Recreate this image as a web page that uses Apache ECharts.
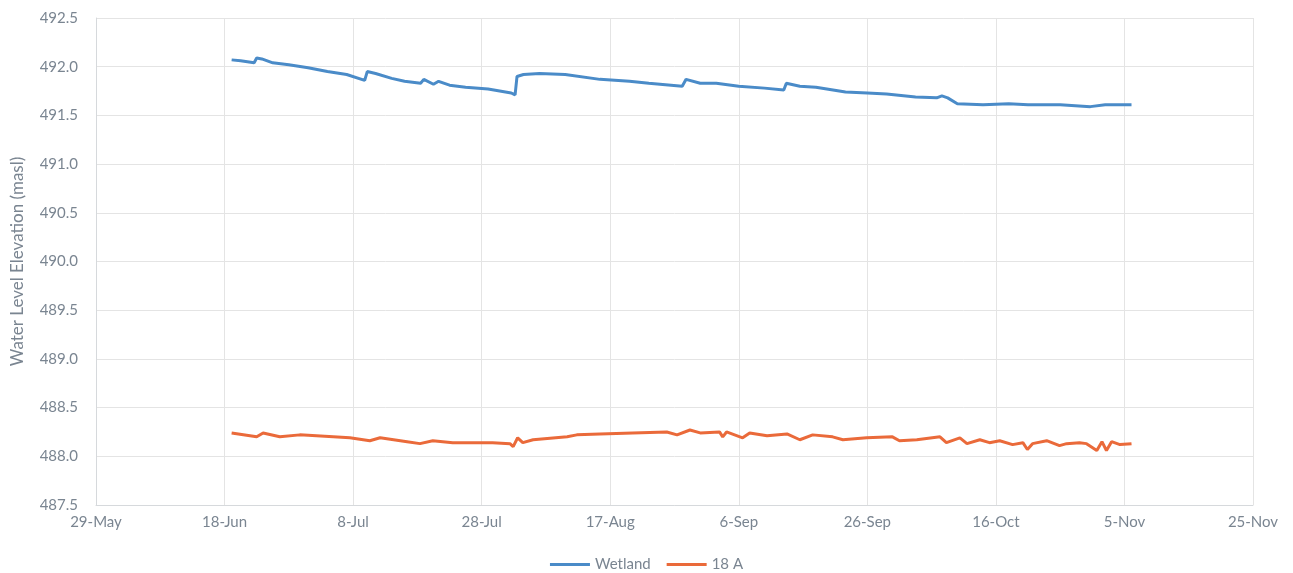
<!DOCTYPE html>
<html>
<head>
<meta charset="utf-8">
<script src="https://cdn.jsdelivr.net/npm/echarts@6/dist/echarts.min.js"></script>
<style>
  html, body { margin: 0; padding: 0; background: #fff; }
  #chart { width: 1293px; height: 573px; }
</style>
</head>
<body>
<div id="chart"></div>
<script>
// x values are days after 29 May
var startDate = Date.UTC(2019, 4, 29);
var monthNames = ['Jan', 'Feb', 'Mar', 'Apr', 'May', 'Jun', 'Jul', 'Aug', 'Sep', 'Oct', 'Nov', 'Dec'];

var wetlandDay = [21.1, 22.5, 24.6, 25.0, 25.8, 27.5, 30, 33, 36, 39, 41.8, 42.2, 43.5, 46, 48, 50.5, 51.0, 52.5, 53.3, 55, 57.5, 61, 64.6, 65.2, 65.5, 66.5, 69, 73, 78.4, 83, 86, 91.2, 91.8, 94, 96.5, 100, 104, 107.0, 107.4, 109.5, 112, 116.6, 120, 123, 127.5, 130.8, 131.6, 132.5, 134, 138, 142, 145, 150, 154.7, 157, 161.1];
var wetlandVal = [492.07, 492.06, 492.04, 492.09, 492.08, 492.04, 492.02, 491.99, 491.95, 491.92, 491.86, 491.95, 491.93, 491.88, 491.85, 491.83, 491.87, 491.82, 491.85, 491.81, 491.79, 491.77, 491.73, 491.71, 491.90, 491.92, 491.93, 491.92, 491.87, 491.85, 491.83, 491.80, 491.87, 491.83, 491.83, 491.80, 491.78, 491.76, 491.83, 491.80, 491.79, 491.74, 491.73, 491.72, 491.69, 491.68, 491.70, 491.68, 491.62, 491.61, 491.62, 491.61, 491.61, 491.59, 491.61, 491.61];

var a18Day = [21.1, 25.0, 26.0, 28.6, 31.7, 36.9, 39.5, 42.6, 44.2, 48.4, 50.4, 52.4, 55.5, 58.6, 61.7, 64.4, 64.9, 65.6, 66.4, 68.0, 73.3, 74.8, 78.4, 83.5, 88.8, 90.4, 92.4, 94.0, 97.0, 97.5, 98.1, 100.6, 101.7, 104.4, 107.5, 109.5, 111.5, 114.6, 116.2, 119.9, 123.9, 125.0, 127.7, 131.3, 132.3, 134.4, 135.5, 137.5, 139.0, 140.6, 142.6, 144.2, 144.9, 145.7, 147.9, 149.9, 151.0, 153.0, 154.1, 155.7, 156.5, 157.2, 158.0, 159.3, 161.1];
var a18Val = [488.24, 488.20, 488.24, 488.20, 488.22, 488.20, 488.19, 488.16, 488.19, 488.15, 488.13, 488.16, 488.14, 488.14, 488.14, 488.13, 488.10, 488.19, 488.14, 488.17, 488.20, 488.22, 488.23, 488.24, 488.25, 488.22, 488.27, 488.24, 488.25, 488.20, 488.25, 488.19, 488.24, 488.21, 488.23, 488.17, 488.22, 488.20, 488.17, 488.19, 488.20, 488.16, 488.17, 488.20, 488.14, 488.19, 488.13, 488.17, 488.14, 488.16, 488.12, 488.14, 488.07, 488.13, 488.16, 488.11, 488.13, 488.14, 488.13, 488.06, 488.15, 488.06, 488.15, 488.12, 488.13];

function pairs(xs, ys) {
  return xs.map(function (x, i) { return [x, ys[i]]; });
}

var textColor = '#7a8591';
var gridColor = '#e4e4e4';

var chart = echarts.init(document.getElementById('chart'));
chart.setOption({
  animation: false,
  textStyle: { fontFamily: 'Lato' },
  grid: { left: 96, right: 40, top: 18, bottom: 68 },
  legend: {
    top: 552,
    left: 'center',
    icon: 'rect',
    itemWidth: 40,
    itemHeight: 3,
    itemGap: 16,
    textStyle: { color: textColor, fontSize: 15, fontFamily: 'Lato' },
    data: ['Wetland', '18 A']
  },
  xAxis: {
    type: 'value',
    min: 0,
    max: 180,
    interval: 20,
    axisLine: { show: true, lineStyle: { color: '#d6d9dc' } },
    axisTick: { show: false },
    splitLine: { show: true, lineStyle: { color: gridColor } },
    axisLabel: {
      color: textColor,
      fontSize: 15,
      margin: 10,
      formatter: function (v) {
        var d = new Date(startDate + v * 864e5);
        return d.getUTCDate() + '-' + monthNames[d.getUTCMonth()];
      }
    }
  },
  yAxis: {
    type: 'value',
    min: 487.5,
    max: 492.5,
    interval: 0.5,
    name: 'Water Level Elevation (masl)',
    nameLocation: 'middle',
    nameGap: 70,
    nameTextStyle: { color: textColor, fontSize: 17 },
    axisLine: { show: true, lineStyle: { color: '#d6d9dc' } },
    axisTick: { show: false },
    splitLine: { show: true, lineStyle: { color: gridColor } },
    axisLabel: {
      color: textColor,
      fontSize: 15,
      margin: 18,
      formatter: function (v) { return v.toFixed(1); }
    }
  },
  series: [
    {
      name: 'Wetland',
      type: 'line',
      showSymbol: false,
      data: pairs(wetlandDay, wetlandVal),
      lineStyle: { color: '#4a8bc8', width: 3 },
      itemStyle: { color: '#4a8bc8' }
    },
    {
      name: '18 A',
      type: 'line',
      showSymbol: false,
      data: pairs(a18Day, a18Val),
      lineStyle: { color: '#ea6a3a', width: 3 },
      itemStyle: { color: '#ea6a3a' }
    }
  ]
});
</script>
</body>
</html>
